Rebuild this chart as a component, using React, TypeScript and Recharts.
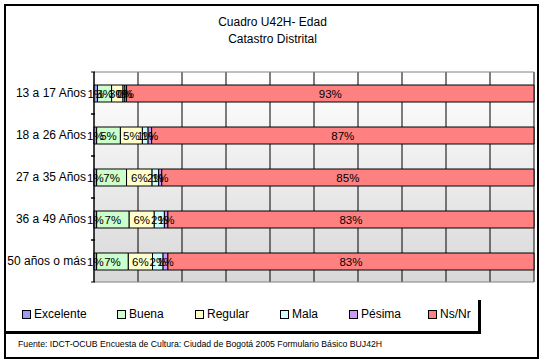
import { BarChart, Bar, XAxis, YAxis, CartesianGrid, ReferenceArea, LabelList } from 'recharts'

const ageGroups = ['13 a 17 Años', '18 a 26 Años', '27 a 35 Años', '36 a 49 Años', '50 años o más']
const excelente = [0.8, 0.6, 0.6, 0.6, 0.6]
const buena = [3.2, 5.4, 6.8, 7.4, 7.2]
const regular = [2.6, 5.0, 5.8, 5.7, 5.5]
const mala = [0.4, 1.3, 1.5, 2.3, 2.4]
const pesima = [0.4, 0.8, 0.7, 0.8, 1.1]
const nsnr = [92.6, 86.9, 84.6, 83.2, 83.2]
const gridTicks = [10, 20, 30, 40, 50, 60, 70, 80, 90]

const series = [
  { key: 'excelente', name: 'Excelente', color: '#9999ff', values: excelente },
  { key: 'buena', name: 'Buena', color: '#ccffcc', values: buena },
  { key: 'regular', name: 'Regular', color: '#ffffcc', values: regular },
  { key: 'mala', name: 'Mala', color: '#ccffff', values: mala },
  { key: 'pesima', name: 'Pésima', color: '#cc99ff', values: pesima },
  { key: 'nsnr', name: 'Ns/Nr', color: '#ff8080', values: nsnr },
]

const data = ageGroups.map((edad, i) => {
  const row: Record<string, string | number> = { edad }
  series.forEach((s) => (row[s.key] = s.values[i]))
  return row
})

// legend squares: left offsets
const legendX = [22, 117, 195, 280, 349, 428]

const font = 'Arial, "Liberation Sans", sans-serif'

function AgeTick(props: any) {
  const { x, y, payload } = props
  return (
    <g>
      <text x={x} y={y} dy={4} textAnchor="end" fontSize={12} fontFamily={font} fill="#000">
        {payload.value}
      </text>
      <line x1={x + 5} x2={x + 9} y1={y - 21} y2={y - 21} stroke="#000" />
      <line x1={x + 5} x2={x + 9} y1={y + 21} y2={y + 21} stroke="#000" />
    </g>
  )
}

export default function App() {
  return (
    <div style={{ position: 'absolute', left: 0, top: 0, width: 545, height: 364, background: '#fff', fontFamily: font }}>
      <svg width={0} height={0} style={{ position: 'absolute' }}>
        <defs>
          <linearGradient id="plotBg" x1="0" y1="0" x2="0" y2="1">
            <stop offset="0" stopColor="#ffffff" />
            <stop offset="1" stopColor="#d8d8d8" />
          </linearGradient>
        </defs>
      </svg>
      <div
        style={{
          position: 'absolute', left: 4, top: 4, width: 535, height: 355,
          border: '2px solid #000', boxSizing: 'border-box',
        }}
      />
      <div style={{ position: 'absolute', left: 0, width: 545, top: 14, textAlign: 'center', fontSize: 12, lineHeight: '17px', color: '#000' }}>
        Cuadro U42H- Edad
        <br />
        Catastro Distrital
      </div>
      <div style={{ position: 'absolute', left: 0, top: 0 }}>
        <BarChart
          width={545}
          height={364}
          data={data}
          layout="vertical"
          margin={{ top: 72, right: 11, left: 4, bottom: 82 }}
        >
          <CartesianGrid horizontal={false} stroke="#000" fill="url(#plotBg)" fillOpacity={1} />
          <XAxis type="number" domain={[0, 100]} ticks={gridTicks} hide />
          <YAxis
            type="category"
            dataKey="edad"
            width={90}
            axisLine={{ stroke: '#000' }}
            tickLine={false}
            tickSize={0}
            tickMargin={8}
            tick={<AgeTick />}
          />
          <ReferenceArea x1={0} x2={100} fill="none" stroke="#808080" strokeWidth={1} />
          {series.map((s) => (
            <Bar
              key={s.key}
              dataKey={s.key}
              name={s.name}
              stackId="a"
              fill={s.color}
              stroke="#000"
              strokeWidth={1}
              barSize={17}
              isAnimationActive={false}
            >
              <LabelList
                dataKey={s.key}
                position="center"
                formatter={(v: any) => `${Math.round(Number(v))}%`}
                style={{ fontSize: 11.5, fontFamily: font, fill: '#000' }}
              />
            </Bar>
          ))}
        </BarChart>
      </div>
      <div
        style={{
          position: 'absolute', left: 4, top: 300, width: 477, height: 34,
          borderRight: '3px solid #000', borderBottom: '3px solid #000', boxSizing: 'border-box',
        }}
      />
      {series.map((s, i) => (
        <div key={s.key} style={{ position: 'absolute', left: legendX[i], top: 307, display: 'flex', alignItems: 'center', fontSize: 12, color: '#000' }}>
          <span style={{ display: 'inline-block', width: 7, height: 7, background: s.color, border: '1px solid #000', marginRight: 3 }} />
          <span>{s.name}</span>
        </div>
      ))}
      <div style={{ position: 'absolute', left: 18, top: 339, fontSize: 8.7, color: '#000', whiteSpace: 'nowrap' }}>
        Fuente: IDCT-OCUB Encuesta de Cultura: Ciudad de Bogotá 2005 Formulario Básico BUJ42H
      </div>
    </div>
  )
}
